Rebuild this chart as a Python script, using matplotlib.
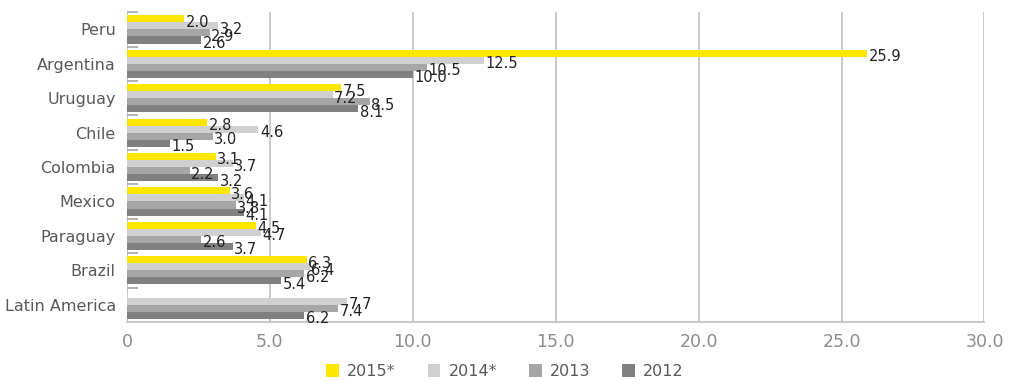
import matplotlib.pyplot as plt
import numpy as np

countries = ['Peru', 'Argentina', 'Uruguay', 'Chile', 'Colombia', 'Mexico',
             'Paraguay', 'Brazil', 'Latin America']
v2015 = [2.0, 25.9, 7.5, 2.8, 3.1, 3.6, 4.5, 6.3, np.nan]
v2014 = [3.2, 12.5, 7.2, 4.6, 3.7, 4.1, 4.7, 6.4, 7.7]
v2013 = [2.9, 10.5, 8.5, 3.0, 2.2, 3.8, 2.6, 6.2, 7.4]
v2012 = [2.6, 10.0, 8.1, 1.5, 3.2, 4.1, 3.7, 5.4, 6.2]
years = ['2015*', '2014*', '2013', '2012']
colors = ['#FFE600', '#D0D0D2', '#A6A6A6', '#808080']

series = [v2015, v2014, v2013, v2012]

fig = plt.figure(figsize=(10.1, 3.81), dpi=100)
ax = fig.add_axes([0.1257, 0.155, 0.849, 0.813])

y = np.arange(len(countries))
h = 0.205
for i, (vals, lab, col) in enumerate(zip(series, years, colors)):
    pos = y + (i - 1.5) * h
    ax.barh(pos, vals, height=h, color=col, label=lab, zorder=3)
    for p, v in zip(pos, vals):
        if np.isnan(v):
            continue
        ax.text(v + 0.05, p + 0.1, f'{v:.1f}', va='center', ha='left',
                fontsize=10.5, color='#222222', zorder=4)

ax.set_ylim(len(countries) - 0.5, -0.5)
ax.set_xlim(0, 30)
ax.set_xticks(np.arange(0, 31, 5))
ax.set_xticklabels(['0', '5.0', '10.0', '15.0', '20.0', '25.0', '30.0'])
ax.set_yticks(y)
ax.set_yticklabels(countries)
ax.set_yticks(np.arange(-0.5, len(countries) - 1, 1), minor=True)

ax.grid(axis='x', color='#BFBFBF', linewidth=1.2, zorder=0)
for s in ['top', 'right', 'left']:
    ax.spines[s].set_visible(False)
ax.spines['bottom'].set_color('#BFBFBF')
ax.spines['bottom'].set_linewidth(1.2)

ax.tick_params(axis='x', length=0, labelsize=12.5, labelcolor='#8C8C8C', pad=8)
ax.tick_params(axis='y', which='major', length=0, labelsize=11.5, labelcolor='#595959', pad=8)
ax.tick_params(axis='y', which='minor', length=8, direction='in', color='#A6A6A6', width=1.2)

fig.legend(*ax.get_legend_handles_labels(), loc='center', bbox_to_anchor=(0.5, 0.025),
           ncol=4, frameon=False, fontsize=11.5, handlelength=0.8, handleheight=0.8,
           columnspacing=2.0, handletextpad=0.5, labelcolor='#595959')

fig.savefig('out.png', dpi=100)
